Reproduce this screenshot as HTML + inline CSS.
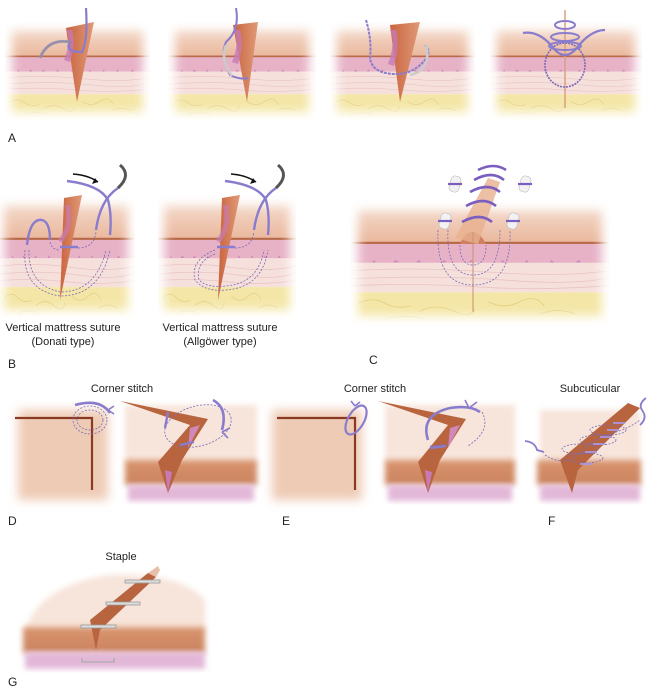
<!DOCTYPE html>
<html><head><meta charset="utf-8"><style>
html,body{margin:0;padding:0;background:#fff;width:650px;height:688px;overflow:hidden}
svg{display:block}
text{font-family:"Liberation Sans",sans-serif;fill:#222}
</style></head><body>
<svg width="650" height="688" viewBox="0 0 650 688" xmlns="http://www.w3.org/2000/svg" xmlns:xlink="http://www.w3.org/1999/xlink">
<defs>
<filter id="fb" x="-20%" y="-20%" width="140%" height="140%"><feGaussianBlur stdDeviation="5"/></filter>
<filter id="fb2" x="-20%" y="-20%" width="140%" height="140%"><feGaussianBlur stdDeviation="3"/></filter>
<linearGradient id="top" x1="0" y1="0" x2="0" y2="1"><stop offset="0" stop-color="#f6e2d6"/><stop offset="1" stop-color="#eab79c"/></linearGradient>
<linearGradient id="inc" x1="0" y1="0" x2="1" y2="0"><stop offset="0" stop-color="#c9643f"/><stop offset="1" stop-color="#e09a78"/></linearGradient>
<linearGradient id="band" x1="0" y1="0" x2="0" y2="1"><stop offset="0" stop-color="#d9956e"/><stop offset="1" stop-color="#c9825e"/></linearGradient>
<mask id="mA1" maskUnits="userSpaceOnUse" x="0" y="0" width="650" height="688"><rect x="12" y="30" width="131" height="82" fill="#fff" filter="url(#fb)"/></mask>
<mask id="mA2" maskUnits="userSpaceOnUse" x="0" y="0" width="650" height="688"><rect x="175" y="30" width="134" height="82" fill="#fff" filter="url(#fb)"/></mask>
<mask id="mA3" maskUnits="userSpaceOnUse" x="0" y="0" width="650" height="688"><rect x="337" y="30" width="131" height="82" fill="#fff" filter="url(#fb)"/></mask>
<mask id="mA4" maskUnits="userSpaceOnUse" x="0" y="0" width="650" height="688"><rect x="497" y="30" width="138" height="82" fill="#fff" filter="url(#fb)"/></mask>
<mask id="mB1" maskUnits="userSpaceOnUse" x="0" y="0" width="650" height="688"><rect x="4" y="205" width="124" height="105" fill="#fff" filter="url(#fb)"/></mask>
<mask id="mB2" maskUnits="userSpaceOnUse" x="0" y="0" width="650" height="688"><rect x="164" y="205" width="126" height="105" fill="#fff" filter="url(#fb)"/></mask>
<mask id="mC" maskUnits="userSpaceOnUse" x="0" y="0" width="650" height="688"><rect x="358" y="210" width="244" height="106" fill="#fff" filter="url(#fb)"/></mask>
<symbol id="skin" viewBox="0 0 150 95" preserveAspectRatio="none">
  <rect x="0" y="0" width="150" height="34" fill="url(#top)"/>
  <rect x="0" y="33" width="150" height="15" fill="#e7b2c6"/>
  <path d="M0 46 Q8 56 14 46 Q20 58 26 46 Q34 52 40 46 Q48 60 54 46 Q62 54 70 46 Q80 58 88 46 Q96 56 102 46 Q110 60 116 46 Q124 54 132 46 Q140 58 150 46 L150 48 L0 48Z" fill="#cf86b8"/>
  <rect x="0" y="48" width="150" height="22" fill="#f6e0dc"/>
  <path d="M0 54 Q40 51 80 55 T150 54 M0 60 Q50 57 90 61 T150 59 M0 65 Q40 63 75 66 T150 65" stroke="#e8c4c4" stroke-width="0.6" fill="none"/>
  <rect x="0" y="70" width="150" height="25" fill="#f4e6a6"/>
  <path d="M5 78 q8 -5 15 0 t15 2 M40 84 q10 -6 20 0 t12 -2 M80 77 q9 6 18 0 t14 3 M110 86 q10 -5 20 0 M20 90 q12 -4 24 0" stroke="#e3cf80" stroke-width="0.6" fill="none"/>
  <rect x="0" y="32.5" width="150" height="1.6" fill="#b86a48"/>
</symbol>
</defs>

<!-- Row A -->
<g mask="url(#mA1)"><use xlink:href="#skin" href="#skin" x="5" y="22" width="145" height="98"/></g>
<g mask="url(#mA2)"><use xlink:href="#skin" href="#skin" x="168" y="22" width="148" height="98"/></g>
<g mask="url(#mA3)"><use xlink:href="#skin" href="#skin" x="330" y="22" width="145" height="98"/></g>
<g mask="url(#mA4)"><use xlink:href="#skin" href="#skin" x="490" y="22" width="152" height="98"/></g>
<polygon points="66,28 94,22 77,102" fill="url(#inc)"/>
<path d="M66,30 Q72,40 64,60 L70,62 Q76,45 72,30Z" fill="#c77ab5" opacity="0.8"/>
<polygon points="233,25 258,22 247,102" fill="url(#inc)"/>
<path d="M234,30 Q240,42 232,62 L238,64 Q244,46 240,30Z" fill="#c77ab5" opacity="0.8"/>
<polygon points="390,25 420,22 400,102" fill="url(#inc)"/>
<path d="M390,30 Q396,42 388,64 L394,66 Q400,46 396,30Z" fill="#c77ab5" opacity="0.8"/>
<line x1="565" y1="10" x2="565" y2="108" stroke="#d8a080" stroke-width="1.5"/>
<path d="M40,58 Q48,38 70,42 Q64,52 82,52 Q88,40 86,8" stroke="#8a7ccc" stroke-width="2.2" fill="none"/>
<path d="M40,58 Q48,38 70,42" stroke="#999" stroke-width="3" fill="none" opacity="0.6"/>
<path d="M236,8 Q240,30 226,42 Q220,55 230,75 Q240,80 248,78" stroke="#8a7ccc" stroke-width="2" fill="none"/>
<path d="M226,45 Q220,60 232,76" stroke="#ccc" stroke-width="2.5" fill="none"/>
<path d="M366,20 Q372,40 370,58 Q372,75 400,74 Q415,72 425,60 Q432,52 425,45" stroke="#8a7ccc" stroke-width="2" fill="none" stroke-dasharray="3 1"/>
<path d="M410,75 Q432,70 426,44" stroke="#ccc" stroke-width="2.5" fill="none"/>
<ellipse cx="565" cy="65" rx="20" ry="22" stroke="#7a6ab8" stroke-width="1.6" fill="none" stroke-dasharray="2 1"/>
<path d="M523,33 Q540,30 555,50 Q565,60 575,50 Q590,30 605,30" stroke="#8a7ccc" stroke-width="2.2" fill="none"/>
<ellipse cx="565" cy="25" rx="10" ry="4" stroke="#8a7ccc" stroke-width="2" fill="none"/>
<ellipse cx="565" cy="37" rx="14" ry="4" stroke="#8a7ccc" stroke-width="2" fill="none"/>
<ellipse cx="565" cy="46" rx="16" ry="4" stroke="#8a7ccc" stroke-width="2" fill="none"/>
<text x="8" y="142" font-size="12">A</text>

<!-- Row B -->
<g mask="url(#mB1)"><use xlink:href="#skin" href="#skin" x="0" y="195" width="135" height="125"/></g>
<g mask="url(#mB2)"><use xlink:href="#skin" href="#skin" x="158" y="195" width="138" height="125"/></g>
<polygon points="64,198 82,195 60,300" fill="url(#inc)"/>
<polygon points="222,198 240,195 218,300" fill="url(#inc)"/>
<path d="M65,205 Q70,225 58,240 L62,243 Q74,228 70,205Z" fill="#c77ab5" opacity="0.7"/>
<path d="M223,205 Q228,225 216,240 L220,243 Q232,228 228,205Z" fill="#c77ab5" opacity="0.7"/>
<path d="M27,245 Q30,218 42,220 Q50,222 50,240" stroke="#8a7ccc" stroke-width="2.4" fill="none"/>
<path d="M60,247 L78,247" stroke="#8a7ccc" stroke-width="2.4"/>
<path d="M67,181 Q100,185 108,200 Q112,215 110,235 M96,230 Q100,200 118,188" stroke="#8a7ccc" stroke-width="2.4" fill="none"/>
<path d="M118,188 Q132,175 120,165" stroke="#555" stroke-width="3" fill="none"/>
<path d="M73,174 Q88,175 98,182" stroke="#111" stroke-width="1.5" fill="none"/>
<polygon points="98,182 92,184 95,178" fill="#111"/>
<path d="M25,250 Q22,290 60,296 Q100,296 110,250 M29,250 Q28,285 60,292 Q96,292 106,250 M50,242 Q52,250 60,250 M78,248 Q94,248 96,232" stroke="#7a6ab8" stroke-width="0.8" fill="none" stroke-dasharray="2 1.5"/>
<path d="M217,247 L235,247" stroke="#8a7ccc" stroke-width="2.4"/>
<path d="M225,181 Q258,185 266,200 Q270,215 268,235 M254,230 Q258,200 276,188" stroke="#8a7ccc" stroke-width="2.4" fill="none"/>
<path d="M276,188 Q290,175 278,165" stroke="#555" stroke-width="3" fill="none"/>
<path d="M231,174 Q246,175 256,182" stroke="#111" stroke-width="1.5" fill="none"/>
<polygon points="256,182 250,184 253,178" fill="#111"/>
<path d="M215,250 Q190,260 195,280 Q205,292 225,290 Q262,288 268,250 M215,254 Q195,262 199,280 Q207,288 225,286 Q258,284 264,250 M235,248 Q252,248 254,232" stroke="#7a6ab8" stroke-width="0.8" fill="none" stroke-dasharray="2 1.5"/>
<text x="63" y="331" font-size="11" text-anchor="middle">Vertical mattress suture</text>
<text x="63" y="345" font-size="11" text-anchor="middle">(Donati type)</text>
<text x="220" y="331" font-size="11" text-anchor="middle">Vertical mattress suture</text>
<text x="220" y="345" font-size="11" text-anchor="middle">(Allgöwer type)</text>
<text x="8" y="368" font-size="12">B</text>

<!-- C -->
<g mask="url(#mC)"><use xlink:href="#skin" href="#skin" x="350" y="198" width="260" height="128"/></g>
<path d="M460,244 Q465,232 472,232 Q480,232 486,244" fill="#d08060"/>
<polygon points="455,238 488,178 500,182 478,244" fill="#e8b090" opacity="0.8"/>
<line x1="473" y1="232" x2="473" y2="312" stroke="#c89070" stroke-width="1"/>
<g stroke="#7a5ec0" stroke-width="2.6" fill="none">
<path d="M462,222 Q480,212 492,222"/><path d="M466,206 Q484,196 496,206"/><path d="M470,192 Q488,182 500,192"/><path d="M474,180 Q492,170 504,180"/><path d="M478,170 Q494,162 506,170"/>
</g>
<g stroke="#7a6ab8" stroke-width="0.8" fill="none" stroke-dasharray="2 1.5">
<path d="M438,230 Q436,285 473,285 Q512,285 510,230"/><path d="M448,230 Q446,275 473,275 Q500,275 500,230"/><path d="M460,245 Q460,265 473,265 Q486,265 486,245"/>
</g>
<g fill="#f2f2f2" stroke="#bbb" stroke-width="0.6">
<rect x="450" y="176" width="10" height="16" rx="4" transform="rotate(15 455 184)"/>
<rect x="520" y="176" width="10" height="16" rx="4" transform="rotate(15 525 184)"/>
<rect x="440" y="213" width="10" height="16" rx="4" transform="rotate(15 445 221)"/>
<rect x="508" y="213" width="10" height="16" rx="4" transform="rotate(15 513 221)"/>
</g>
<g stroke="#7a5ec0" stroke-width="2.2"><line x1="448" y1="184" x2="462" y2="184"/><line x1="518" y1="184" x2="532" y2="184"/><line x1="438" y1="221" x2="452" y2="221"/><line x1="506" y1="221" x2="520" y2="221"/></g>
<text x="369" y="364" font-size="12">C</text>

<!-- Row D/E/F -->
<text x="122" y="392" font-size="11" text-anchor="middle">Corner stitch</text>
<text x="375" y="392" font-size="11" text-anchor="middle">Corner stitch</text>
<text x="590" y="392" font-size="11" text-anchor="middle">Subcuticular</text>
<rect x="18" y="410" width="90" height="90" fill="#eecbb5" filter="url(#fb)"/>
<path d="M15,418 L92,418 L92,490" stroke="#8a3a22" stroke-width="2.2" fill="none"/>
<rect x="125" y="405" width="132" height="58" fill="#f7e4da" filter="url(#fb2)"/>
<rect x="125" y="460" width="132" height="25" fill="url(#band)" filter="url(#fb2)"/>
<rect x="128" y="485" width="126" height="16" fill="#e2b7d8" filter="url(#fb2)"/>
<polygon points="120,401 208,419 182,460 168,493 158,462 190,425" fill="#b8643f"/>
<polygon points="190,428 200,425 188,448" fill="#d088b8"/>
<polygon points="165,470 172,472 168,493" fill="#c77ab5"/>
<path d="M75,405 Q100,398 110,413" stroke="#8a7ccc" stroke-width="2.6" fill="none"/>
<path d="M108,410 l6 -4 M108,410 l6 4" stroke="#8a7ccc" stroke-width="1.6"/>
<ellipse cx="90" cy="420" rx="17" ry="14" stroke="#7a6ab8" stroke-width="0.8" fill="none" stroke-dasharray="2 1.5"/>
<ellipse cx="90" cy="420" rx="13" ry="10" stroke="#7a6ab8" stroke-width="0.8" fill="none" stroke-dasharray="2 1.5"/>
<ellipse cx="198" cy="426" rx="34" ry="20" stroke="#7a6ab8" stroke-width="0.8" fill="none" stroke-dasharray="2 1.5" transform="rotate(-15 198 426)"/>
<path d="M213,400 Q228,408 222,430" stroke="#8a7ccc" stroke-width="2.6" fill="none"/>
<path d="M222,432 l8 -4 M222,432 l6 6" stroke="#8a7ccc" stroke-width="1.6"/>
<path d="M168,412 L165,428 M180,445 L194,442" stroke="#8a7ccc" stroke-width="2.4"/>
<text x="8" y="525" font-size="12">D</text>
<rect x="272" y="410" width="90" height="90" fill="#eecbb5" filter="url(#fb)"/>
<path d="M277,418 L355,418 L355,490" stroke="#8a3a22" stroke-width="2.2" fill="none"/>
<ellipse cx="356" cy="420" rx="8" ry="16" stroke="#8a7ccc" stroke-width="2.2" fill="none" transform="rotate(30 356 420)"/>
<path d="M355,406 l-4 -5 M355,406 l5 -4" stroke="#8a7ccc" stroke-width="1.6"/>
<rect x="385" y="405" width="130" height="58" fill="#f7e4da" filter="url(#fb2)"/>
<rect x="385" y="460" width="130" height="25" fill="url(#band)" filter="url(#fb2)"/>
<rect x="388" y="485" width="124" height="16" fill="#e2b7d8" filter="url(#fb2)"/>
<polygon points="378,401 466,419 440,460 428,493 418,462 448,425" fill="#b8643f"/>
<polygon points="450,428 460,425 448,448" fill="#d088b8"/>
<polygon points="425,470 432,472 428,493" fill="#c77ab5"/>
<path d="M428,440 Q420,415 450,408 Q470,405 480,412" stroke="#8a7ccc" stroke-width="2.6" fill="none"/>
<path d="M469,408 l-4 -8 M469,408 l8 -6" stroke="#8a7ccc" stroke-width="1.6"/>
<path d="M482,412 Q492,430 468,446 M430,446 L448,444" stroke="#7a6ab8" stroke-width="0.8" fill="none" stroke-dasharray="2 1.5"/>
<path d="M430,448 L446,446" stroke="#8a7ccc" stroke-width="2.4"/>
<text x="282" y="525" font-size="12">E</text>
<rect x="540" y="410" width="100" height="53" fill="#f7e4da" filter="url(#fb2)"/>
<rect x="537" y="460" width="104" height="25" fill="url(#band)" filter="url(#fb2)"/>
<rect x="540" y="485" width="100" height="16" fill="#e2b7d8" filter="url(#fb2)"/>
<polygon points="560,460 628,403 640,408 578,470 572,493" fill="#b8643f"/>
<g stroke="#7a6ab8" stroke-width="0.8" fill="none" stroke-dasharray="2 1.5">
<path d="M545,455 Q560,465 575,458 Q590,440 610,434 Q630,428 640,420"/>
<ellipse cx="585" cy="458" rx="18" ry="5"/><ellipse cx="580" cy="449" rx="18" ry="5"/><ellipse cx="598" cy="440" rx="18" ry="5"/><ellipse cx="608" cy="430" rx="18" ry="5"/>
</g>
<g stroke="#a898e0" stroke-width="1.8"><line x1="580" y1="464" x2="592" y2="464"/><line x1="585" y1="452" x2="597" y2="452"/><line x1="593" y1="444" x2="605" y2="444"/><line x1="600" y1="437" x2="612" y2="437"/><line x1="607" y1="430" x2="619" y2="430"/><line x1="613" y1="423" x2="625" y2="423"/></g>
<path d="M525,441 Q535,442 537,450 L544,452" stroke="#8a7ccc" stroke-width="1.8" fill="none"/>
<path d="M640,425 Q648,418 642,410 Q638,404 646,398" stroke="#8a7ccc" stroke-width="1.8" fill="none"/>
<text x="548" y="525" font-size="12">F</text>

<!-- G -->
<text x="121" y="560" font-size="11" text-anchor="middle">Staple</text>
<path d="M25,630 Q40,585 110,575 Q180,572 205,600 L205,630Z" fill="#f7e4da" filter="url(#fb2)"/>
<rect x="23" y="627" width="182" height="26" fill="url(#band)" filter="url(#fb2)"/>
<rect x="25" y="652" width="180" height="17" fill="#e2b7d8" filter="url(#fb2)"/>
<polygon points="90,620 148,573 156,577 100,630 96,650" fill="#b8643f"/>
<polygon points="148,573 158,566 160,570 156,577" fill="#e8c0a8"/>
<g stroke="#999" stroke-width="0.8" fill="#ddd"><rect x="125" y="580" width="35" height="3"/><rect x="106" y="602" width="34" height="3"/><rect x="81" y="625" width="35" height="3"/></g>
<path d="M82,658 L82,662 L114,662 L114,658" stroke="#aaa" stroke-width="1.2" fill="none"/>
<text x="8" y="686" font-size="12">G</text>
</svg>
</body></html>
